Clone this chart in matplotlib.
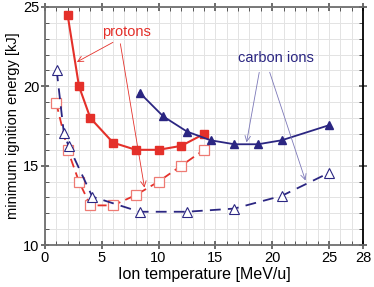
import numpy as np
import matplotlib
matplotlib.use("Agg")
import matplotlib.pyplot as plt
from matplotlib.ticker import MultipleLocator, FixedLocator

plt.rcParams['font.family'] = ['Liberation Sans', 'DejaVu Sans']

# proton beams: solid = filled squares, dashed = open squares
p_T = [2, 3, 4, 6, 8, 10, 12, 14]
p_E = [24.5, 20.0, 18.0, 16.45, 16.0, 16.0, 16.25, 17.0]
p2_T = [1, 2, 3, 4, 6, 8, 10, 12, 14]
p2_E = [18.95, 16.0, 14.0, 12.5, 12.5, 13.15, 14.0, 15.0, 16.0]

# carbon ion beams
c_T = [8.33, 10.42, 12.5, 14.58, 16.67, 18.75, 20.83, 25.0]
c_E = [19.6, 18.1, 17.15, 16.6, 16.35, 16.35, 16.6, 17.55]
c2_T = [1.04, 1.67, 2.08, 4.17, 8.33, 12.5, 16.67, 20.83, 25.0]
c2_E = [21.0, 17.05, 16.25, 13.05, 12.1, 12.1, 12.3, 13.1, 14.55]

xticks = [0, 5, 10, 15, 20, 25, 28]
yticks = [10, 15, 20, 25]

red = '#e4302a'
pink = '#ee7b74'
navy = '#2b2682'
navy_l = '#7c78b8'

fig = plt.figure(figsize=(3.74, 2.87), dpi=100)
ax = fig.add_axes([0.12, 0.146, 0.851, 0.83])

ax.plot(p_T, p_E, '-s', color=red, lw=1.5, ms=5.5, mfc=red, mec=red)
ax.plot(p2_T, p2_E, '--s', color=red, lw=1.3, ms=6.5, mfc='white', mec=pink,
        mew=0.9, dashes=(5, 3))
ax.plot(c_T, c_E, '-^', color=navy, lw=1.3, ms=6, mfc=navy, mec=navy)
ax.plot(c2_T, c2_E, '--^', color=navy, lw=1.3, ms=6.5, mfc='white', mec=navy,
        mew=0.8, dashes=(6, 4))

# annotations
ax.text(7.2, 23.4, 'protons', color=red, fontsize=10.5, ha='center', va='center')
ax.annotate('', xy=(2.6, 21.45), xytext=(6.2, 22.85),
            arrowprops=dict(arrowstyle='->', color=red, lw=0.6))
ax.annotate('', xy=(8.8, 13.45), xytext=(6.6, 22.85),
            arrowprops=dict(arrowstyle='->', color=red, lw=0.6))
ax.text(20.3, 21.8, 'carbon ions', color=navy, fontsize=10.5, ha='center', va='center')
ax.annotate('', xy=(17.7, 16.3), xytext=(18.9, 21.05),
            arrowprops=dict(arrowstyle='->', color=navy_l, lw=0.6))
ax.annotate('', xy=(23.0, 13.9), xytext=(19.7, 21.05),
            arrowprops=dict(arrowstyle='->', color=navy_l, lw=0.6))

ax.set_xlim(0, 28)
ax.set_ylim(10, 25)
ax.xaxis.set_major_locator(FixedLocator(xticks))
ax.yaxis.set_major_locator(FixedLocator(yticks))
ax.xaxis.set_minor_locator(MultipleLocator(1))
ax.yaxis.set_minor_locator(MultipleLocator(1))
ax.grid(True, which='both', color='#e3e3e3', lw=0.7)
ax.set_axisbelow(True)

ax.tick_params(which='major', direction='inout', length=6, width=1.2, labelsize=10.5,
               colors='#555555', labelcolor='black', top=True, right=True, pad=1)
ax.tick_params(which='minor', direction='in', length=3, width=0.7,
               colors='#555555', top=True, right=True)
for s in ax.spines.values():
    s.set_color('#6e6e6e')
    s.set_linewidth(1.3)
ax.spines['right'].set_color('black')

ax.set_xlabel('Ion temperature [MeV/u]', fontsize=11.5, labelpad=2)
ax.set_ylabel('minimum ignition energy [kJ]', fontsize=10.5, labelpad=2)

fig.savefig('out.png', dpi=100)
